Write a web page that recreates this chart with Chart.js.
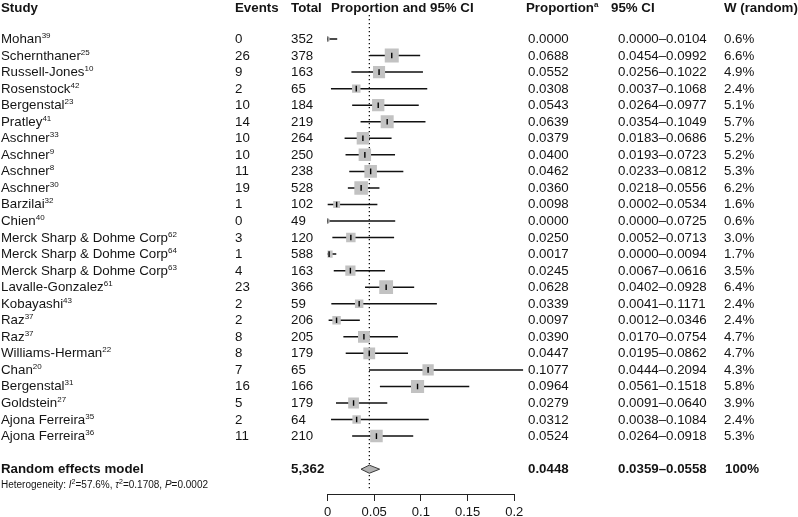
<!DOCTYPE html>
<html>
<head>
<meta charset="utf-8">
<script src="https://cdn.jsdelivr.net/npm/chart.js@4"></script>
<style>
  html, body { margin:0; padding:0; background:#fff; }
  #wrap { position:relative; width:798px; height:517px; overflow:hidden; font-family:"Liberation Sans", Arial, sans-serif; color:#141414; }
  #c { position:absolute; left:0; top:0; }
  .t { position:absolute; height:16px; line-height:16px; font-size:13.3px; white-space:nowrap; }
  .b { font-weight:bold; }
  .sup { font-size:8px; position:relative; top:-5px; }
  .het { font-size:10px; }
</style>
</head>
<body>
<div id="wrap"><canvas id="c" width="798" height="517"></canvas></div>
<script>
const studies = ["Mohan","Schernthaner","Russell-Jones","Rosenstock","Bergenstal","Pratley","Aschner","Aschner","Aschner","Aschner","Barzilai","Chien","Merck Sharp & Dohme Corp","Merck Sharp & Dohme Corp","Merck Sharp & Dohme Corp","Lavalle-Gonzalez","Kobayashi","Raz","Raz","Williams-Herman","Chan","Bergenstal","Goldstein","Ajona Ferreira","Ajona Ferreira"];
const refs = ["39","25","10","42","23","41","33","9","8","30","32","40","62","64","63","61","43","37","37","22","20","31","27","35","36"];
const events = [0,26,9,2,10,14,10,10,11,19,1,0,3,1,4,23,2,2,8,8,7,16,5,2,11];
const totals = [352,378,163,65,184,219,264,250,238,528,102,49,120,588,163,366,59,206,205,179,65,166,179,64,210];
const proportions = [0.0000,0.0688,0.0552,0.0308,0.0543,0.0639,0.0379,0.0400,0.0462,0.0360,0.0098,0.0000,0.0250,0.0017,0.0245,0.0628,0.0339,0.0097,0.0390,0.0447,0.1077,0.0964,0.0279,0.0312,0.0524];
const ciLow = [0.0000,0.0454,0.0256,0.0037,0.0264,0.0354,0.0183,0.0193,0.0233,0.0218,0.0002,0.0000,0.0052,0.0000,0.0067,0.0402,0.0041,0.0012,0.0170,0.0195,0.0444,0.0561,0.0091,0.0038,0.0264];
const ciHigh = [0.0104,0.0992,0.1022,0.1068,0.0977,0.1049,0.0686,0.0723,0.0812,0.0556,0.0534,0.0725,0.0713,0.0094,0.0616,0.0928,0.1171,0.0346,0.0754,0.0862,0.2094,0.1518,0.0640,0.1084,0.0918];
const weights = [0.6,6.6,4.9,2.4,5.1,5.7,5.2,5.2,5.3,6.2,1.6,0.6,3.0,1.7,3.5,6.4,2.4,2.4,4.7,4.7,4.3,5.8,3.9,2.4,5.3];
const summaryLabel = "Random effects model";
const summaryTotal = "5,362";
const summaryEst = 0.0448;
const summaryLow = 0.0359;
const summaryHigh = 0.0558;
const summaryWeight = "100%";
const heterogeneity = 'Heterogeneity: <i>I</i><span style="font-size:7px;position:relative;top:-4px">2</span>=57.6%, <i>τ</i><span style="font-size:7px;position:relative;top:-4px">2</span>=0.1708, <i>P</i>=0.0002';
const xTicks = [0, 0.05, 0.1, 0.15, 0.2];
const xTickLabels = ["0", "0.05", "0.1", "0.15", "0.2"];

const fmt4 = v => v.toFixed(4);
const summaryRow = studies.length + 1;

// datasets built from arrays
const ciLine = [];
studies.forEach((s, i) => {
  ciLine.push({x: ciLow[i], y: i});
  ciLine.push({x: ciHigh[i], y: i});
  ciLine.push({x: null, y: null});
});
const squares = proportions.map((p, i) => ({x: p, y: i}));
const squareRadius = weights.map(w => 5.45 * Math.sqrt(w) / Math.SQRT2);
const dh = 0.245;
const diamond = [
  {x: summaryLow, y: summaryRow},
  {x: summaryEst, y: summaryRow - dh},
  {x: summaryHigh, y: summaryRow},
  {x: summaryEst, y: summaryRow + dh},
  {x: summaryLow, y: summaryRow}
];
const refLine = [{x: summaryEst, y: -1.45}, {x: summaryEst, y: 27.2}];

const chart = new Chart(document.getElementById('c'), {
  type: 'scatter',
  data: {
    datasets: [
      { data: squares, pointStyle: 'line', rotation: 90, pointRadius: 2.8, borderColor: '#000', borderWidth: 1.4, backgroundColor: '#000', order: 0 },
      { data: diamond, showLine: true, fill: 'shape', backgroundColor: '#b3b3b3', borderColor: '#3a3a3a', borderWidth: 1, pointRadius: 0, order: 0 },
      { data: squares, pointStyle: 'rect', pointRadius: squareRadius, backgroundColor: '#c2c2c2', borderWidth: 0, borderColor: 'rgba(0,0,0,0)', order: 1 },
      { data: ciLine, showLine: true, spanGaps: false, borderColor: '#111', borderWidth: 1.5, pointRadius: 0, fill: false, order: 2, clip: false },
      { data: refLine, showLine: true, borderColor: '#111', borderWidth: 1.3, borderDash: [1.3, 2.7], pointRadius: 0, fill: false, order: 3 }
    ]
  },
  options: {
    responsive: false,
    animation: false,
    events: [],
    layout: { padding: { left: 327.5, right: 283.7, top: 14.2, bottom: 0 } },
    plugins: { legend: { display: false }, tooltip: { enabled: false } },
    scales: {
      x: {
        type: 'linear', min: 0, max: 0.2,
        afterBuildTicks: s => { s.ticks = xTicks.map(v => ({value: v})); },
        afterFit: s => { s.height = 23; },
        grid: { drawOnChartArea: false, drawTicks: true, tickLength: 7, color: '#222', lineWidth: 1 },
        border: { display: true, color: '#222', width: 1 },
        ticks: {
          color: '#141414', padding: 4, maxRotation: 0,
          callback: (v, i) => xTickLabels[i],
          font: { family: '"Liberation Sans", Arial, sans-serif', size: 13 }
        }
      },
      y: { type: 'linear', min: -1.5, max: 27.5, reverse: true, display: false }
    }
  }
});

// HTML text columns placed via the chart's y scale
const wrap = document.getElementById('wrap');
const ys = chart.scales.y;
function put(html, x, row, cls) {
  const d = document.createElement('div');
  d.className = 't ' + (cls || '');
  d.innerHTML = html;
  d.style.left = x + 'px';
  d.style.top = (ys.getPixelForValue(row) - 8) + 'px';
  wrap.appendChild(d);
}
const cols = { study: 1, events: 235, total: 291, plot: 331, prop: 528, ci: 618, w: 724 };
const headRow = -1.9;
put('Study', cols.study, headRow, 'b');
put('Events', cols.events, headRow, 'b');
put('Total', cols.total, headRow, 'b');
put('Proportion and 95% CI', cols.plot, headRow, 'b');
put('Proportion<span class="sup">a</span>', 526, headRow, 'b');
put('95% CI', 611, headRow, 'b');
put('W (random)', cols.w, headRow, 'b');
studies.forEach((s, i) => {
  put(s.replace(/&/g, '&amp;') + '<span class="sup">' + refs[i] + '</span>', cols.study, i);
  put(String(events[i]), cols.events, i);
  put(String(totals[i]), cols.total, i);
  put(fmt4(proportions[i]), cols.prop, i);
  put(fmt4(ciLow[i]) + '–' + fmt4(ciHigh[i]), cols.ci, i);
  put(weights[i].toFixed(1) + '%', cols.w, i);
});
put(summaryLabel, cols.study, summaryRow, 'b');
put(summaryTotal, cols.total, summaryRow, 'b');
put(fmt4(summaryEst), cols.prop, summaryRow, 'b');
put(fmt4(summaryLow) + '–' + fmt4(summaryHigh), cols.ci, summaryRow, 'b');
put(summaryWeight, cols.w + 1, summaryRow, 'b');
put(heterogeneity, cols.study, summaryRow + 0.98, 'het');
</script>
</body>
</html>
